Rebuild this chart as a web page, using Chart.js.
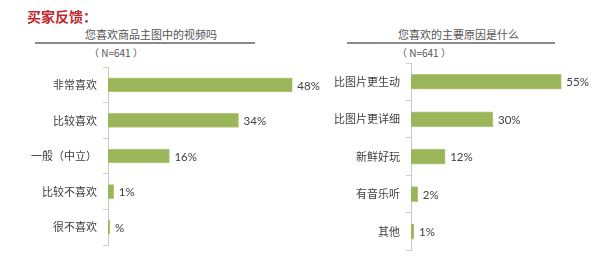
<!DOCTYPE html>
<html><head><meta charset="utf-8">
<script src="https://cdn.jsdelivr.net/npm/chart.js@4"></script>
<style>
html,body{margin:0;padding:0;background:#fff;}
#wrap{position:relative;width:600px;height:263px;overflow:hidden;font-family:"Noto Sans CJK SC",sans-serif;}
.abs{position:absolute;white-space:nowrap;}
#main{left:27px;top:6px;font-size:14px;font-weight:bold;color:#c0282d;line-height:20px;}
.sub{font-size:11px;color:#555;line-height:14px;top:27px;}
.rule{height:2px;background:#8a8a8a;top:42px;}
.n{font-size:10px;color:#555;line-height:12px;top:47px;}
canvas{position:absolute;top:0;}
</style></head>
<body><div id="wrap">
<div id="main" class="abs">买家反馈：</div>
<div class="abs sub" style="left:85px">您喜欢商品主图中的视频吗</div>
<div class="abs rule" style="left:35px;width:220px"></div>
<div class="abs n" style="left:89px">（ N=641 ）</div>
<div class="abs sub" style="left:398px">您喜欢的主要原因是什么</div>
<div class="abs rule" style="left:347px;width:208px"></div>
<div class="abs n" style="left:397px">（ N=641 ）</div>
<canvas id="c1" width="340" height="263" style="left:0;width:340px;height:263px"></canvas>
<canvas id="c2" width="300" height="263" style="left:300px;width:300px;height:263px"></canvas>
</div>
<script>
const leftCategories = ["非常喜欢","比较喜欢","一般（中立）","比较不喜欢","很不喜欢"];
const leftValues = [48, 34, 16, 1.5, 0.5];
const leftLabels = ["48%","34%","16%","1%","%"];
const rightCategories = ["比图片更生动","比图片更详细","新鲜好玩","有音乐听","其他"];
const rightValues = [55, 30, 12.5, 2.5, 1.1];
const rightLabels = ["55%","30%","12%","2%","1%"];

const valueLabelPlugin = {
  id: 'valueLabels',
  afterDatasetsDraw(chart, args, opts) {
    const ctx = chart.ctx;
    const meta = chart.getDatasetMeta(0);
    ctx.save();
    ctx.font = '11.5px Lato, "Noto Sans", sans-serif';
    ctx.fillStyle = '#404040';
    ctx.textBaseline = 'middle';
    ctx.textAlign = 'left';
    meta.data.forEach((bar, i) => {
      ctx.fillText(opts.labels[i], bar.x + 5, bar.y + 1);
    });
    ctx.restore();
  }
};

function makeChart(id, cats, vals, labels, axisX, top, bottom, max, padRight, thick) {
  return new Chart(document.getElementById(id), {
    type: 'bar',
    data: { labels: cats, datasets: [{ data: vals, backgroundColor: '#9bb55b', borderColor: '#b3c87f', borderWidth: 1, barThickness: thick }] },
    options: {
      indexAxis: 'y', responsive: false, animation: false,
      layout: { padding: { top: top, bottom: 263 - bottom, left: 0, right: padRight } },
      plugins: { legend: { display: false }, tooltip: { enabled: false }, valueLabels: { labels: labels } },
      scales: {
        x: { display: false, min: 0, max: max },
        y: {
          afterFit: s => { s.width = axisX; },
          grid: { display: true, drawOnChartArea: false, offset: true, tickLength: 5, color: '#cfcfcf', lineWidth: 1 },
          border: { display: true, color: '#c8c8c8', width: 1 },
          ticks: { padding: 6, color: '#404040', font: { family: '"Noto Sans CJK SC", sans-serif', size: 11 } }
        }
      }
    },
    plugins: [valueLabelPlugin]
  });
}
makeChart('c1', leftCategories, leftValues, leftLabels, 108, 67, 245, 50, 40, 14);
makeChart('c2', rightCategories, rightValues, rightLabels, 111, 63, 256, 60, 25, 15);
</script>
</body></html>
